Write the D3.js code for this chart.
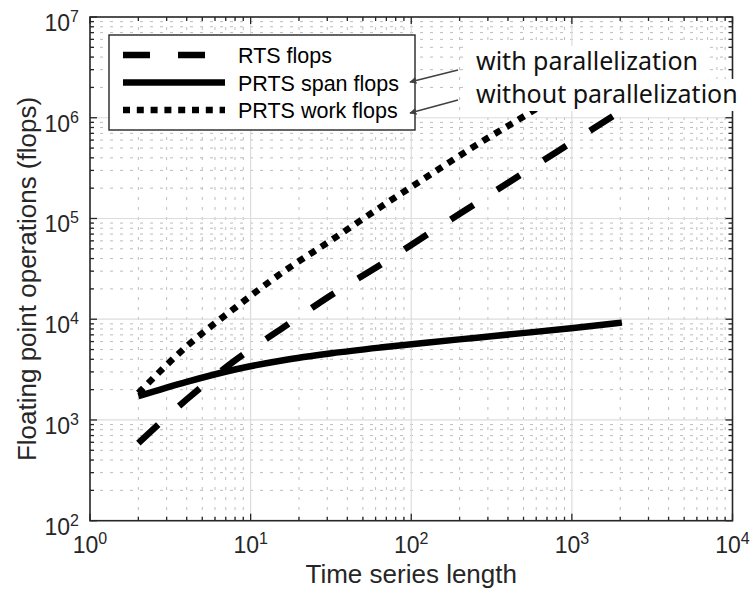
<!DOCTYPE html>
<html>
<head>
<meta charset="utf-8">
<script src="https://cdn.jsdelivr.net/npm/d3@7"></script>
<style>
  html, body { margin: 0; padding: 0; background: #fff; }
  svg { display: block; }
</style>
</head>
<body>
<script>
// ---- data ----
const seriesLength = [2, 4, 8, 16, 32, 64, 128, 256, 512, 1024, 2048];
const rtsFlops      = [590, 1600, 3900, 8300, 17500, 34500, 70500, 143000, 290000, 585000, 1180000];
const prtsSpanFlops = [1722, 2390, 3170, 3920, 4590, 5230, 5880, 6560, 7320, 8200, 9250];
const prtsWorkFlops = [1850, 5380, 12980, 29600, 61300, 129000, 265000, 540000, 1050000, 2100000, 4200000];
const xTickExps = [0, 1, 2, 3, 4];
const yTickExps = [2, 3, 4, 5, 6, 7];
const legendLabels = ["RTS flops", "PRTS span flops", "PRTS work flops"];
const annotationLabels = ["with parallelization", "without parallelization"];
const xTitle = "Time series length";
const yTitle = "Floating point operations (flops)";

// ---- layout ----
const W = 752, H = 590;
const L = 90, R = 732.5, T = 17, B = 520.7;
const svg = d3.select("body").append("svg").attr("width", W).attr("height", H);

const x = d3.scaleLog().domain([1, 1e4]).range([L, R]);
const y = d3.scaleLog().domain([1e2, 1e7]).range([B, T]);

const defs = svg.append("defs");
defs.append("clipPath").attr("id", "plotclip")
  .append("rect").attr("x", L).attr("y", T).attr("width", R - L).attr("height", B - T);
defs.append("marker").attr("id", "arrow").attr("viewBox", "0 0 10 10")
  .attr("refX", 9).attr("refY", 5).attr("markerWidth", 7).attr("markerHeight", 7)
  .attr("markerUnits", "userSpaceOnUse").attr("orient", "auto")
  .append("path").attr("d", "M0,0 L10,5 L0,10 z").attr("fill", "#404040");

// ---- grid ----
const minorX = [], minorY = [];
for (let e = 0; e < 4; e++) for (let m = 2; m <= 9; m++) minorX.push(m * Math.pow(10, e));
for (let e = 2; e < 7; e++) for (let m = 2; m <= 9; m++) minorY.push(m * Math.pow(10, e));
const majorX = xTickExps.map(e => Math.pow(10, e));
const majorY = yTickExps.map(e => Math.pow(10, e));

const grid = svg.append("g");
grid.selectAll(".mgx").data(minorX).enter().append("line")
  .attr("x1", d => x(d)).attr("x2", d => x(d)).attr("y1", T).attr("y2", B)
  .attr("stroke", "#bdbdbd").attr("stroke-width", 1).attr("stroke-dasharray", "3,7");
grid.selectAll(".mgy").data(minorY).enter().append("line")
  .attr("y1", d => y(d)).attr("y2", d => y(d)).attr("x1", L).attr("x2", R)
  .attr("stroke", "#bdbdbd").attr("stroke-width", 1).attr("stroke-dasharray", "3,7");
grid.selectAll(".Mgx").data(majorX.slice(1, -1)).enter().append("line")
  .attr("x1", d => x(d)).attr("x2", d => x(d)).attr("y1", T).attr("y2", B)
  .attr("stroke", "#dcdcdc").attr("stroke-width", 1.2);
grid.selectAll(".Mgy").data(majorY.slice(1, -1)).enter().append("line")
  .attr("y1", d => y(d)).attr("y2", d => y(d)).attr("x1", L).attr("x2", R)
  .attr("stroke", "#dcdcdc").attr("stroke-width", 1.2);

// ---- series ----
const series = [
  { vals: rtsFlops, dash: "27,28" },
  { vals: prtsSpanFlops, dash: null },
  { vals: prtsWorkFlops, dash: "7,6.8" }
];
const line = d3.line().x(d => x(d[0])).y(d => y(d[1])).curve(d3.curveMonotoneX);
const plot = svg.append("g").attr("clip-path", "url(#plotclip)");
series.forEach(s => {
  plot.append("path")
    .attr("d", line(seriesLength.map((v, i) => [v, s.vals[i]])))
    .attr("fill", "none").attr("stroke", "#000").attr("stroke-width", 6.5)
    .attr("stroke-dasharray", s.dash).attr("stroke-linecap", "butt").attr("stroke-linejoin", "round");
});

// ---- axes frame & ticks ----
const frameColor = "#262626";
const ax = svg.append("g");
ax.append("rect").attr("x", L).attr("y", T).attr("width", R - L).attr("height", B - T)
  .attr("fill", "none").attr("stroke", frameColor).attr("stroke-width", 1.6);
const majLen = 7, minLen = 4;
function xTicks(vals, len) {
  vals.forEach(v => {
    ax.append("line").attr("x1", x(v)).attr("x2", x(v)).attr("y1", B).attr("y2", B - len)
      .attr("stroke", frameColor).attr("stroke-width", 1.3);
    ax.append("line").attr("x1", x(v)).attr("x2", x(v)).attr("y1", T).attr("y2", T + len)
      .attr("stroke", frameColor).attr("stroke-width", 1.3);
  });
}
function yTicks(vals, len) {
  vals.forEach(v => {
    ax.append("line").attr("y1", y(v)).attr("y2", y(v)).attr("x1", L).attr("x2", L + len)
      .attr("stroke", frameColor).attr("stroke-width", 1.3);
    ax.append("line").attr("y1", y(v)).attr("y2", y(v)).attr("x1", R).attr("x2", R - len)
      .attr("stroke", frameColor).attr("stroke-width", 1.3);
  });
}
xTicks(minorX, minLen); xTicks(majorX, majLen);
yTicks(minorY, minLen); yTicks(majorY, majLen);

const font = "'Liberation Sans', Arial, Helvetica, sans-serif";
const textColor = "#262626";
// x tick labels
xTickExps.forEach(e => {
  const t = ax.append("text").attr("x", x(Math.pow(10, e))).attr("y", B + 32.5)
    .attr("text-anchor", "middle").attr("font-family", font).attr("font-size", 23).attr("fill", textColor);
  t.append("tspan").text("10");
  t.append("tspan").attr("dy", -9).attr("font-size", 16).text(String(e));
});
// y tick labels
yTickExps.forEach(e => {
  const t = ax.append("text").attr("x", L - 11).attr("y", y(Math.pow(10, e)) + 14)
    .attr("text-anchor", "end").attr("font-family", font).attr("font-size", 23).attr("fill", textColor);
  t.append("tspan").text("10");
  t.append("tspan").attr("dy", -9).attr("font-size", 16).text(String(e));
});
// axis titles
svg.append("text").attr("x", (L + R) / 2).attr("y", 582.5).attr("text-anchor", "middle")
  .attr("font-family", font).attr("font-size", 26).attr("fill", textColor).text(xTitle);
svg.append("text").attr("transform", "translate(36,279) rotate(-90)").attr("text-anchor", "middle")
  .attr("font-family", font).attr("font-size", 26).attr("fill", textColor).text(yTitle);

// ---- legend ----
const lg = svg.append("g");
lg.append("rect").attr("x", 109).attr("y", 35).attr("width", 306).attr("height", 95)
  .attr("fill", "#fff").attr("stroke", frameColor).attr("stroke-width", 1.4);
const rowY = [55, 82.5, 110];
series.forEach((s, i) => {
  lg.append("line").attr("x1", 123).attr("x2", 225).attr("y1", rowY[i]).attr("y2", rowY[i])
    .attr("stroke", "#000").attr("stroke-width", 6.5).attr("stroke-dasharray", s.dash);
  lg.append("text").attr("x", 238).attr("y", rowY[i] + 8).attr("font-family", font)
    .attr("font-size", 21.5).attr("fill", "#000").text(legendLabels[i]);
});

// ---- annotations ----
const an = svg.append("g");
an.append("rect").attr("x", 470).attr("y", 46).attr("width", 238).attr("height", 33).attr("fill", "#fff");
an.append("rect").attr("x", 470).attr("y", 79).attr("width", 277).attr("height", 32).attr("fill", "#fff");
const annY = [70, 103];
annotationLabels.forEach((t, i) => {
  an.append("text").attr("x", 476).attr("y", annY[i]).attr("font-family", "'Noto Sans', sans-serif")
    .attr("font-size", 25).attr("fill", "#111").text(t);
});
const arrowPts = [[[458, 70], [410, 82]], [[458, 100], [410, 113]]];
arrowPts.forEach(p => {
  an.append("line").attr("x1", p[0][0]).attr("y1", p[0][1]).attr("x2", p[1][0]).attr("y2", p[1][1])
    .attr("stroke", "#404040").attr("stroke-width", 1.4).attr("marker-end", "url(#arrow)");
});
</script>
</body>
</html>
